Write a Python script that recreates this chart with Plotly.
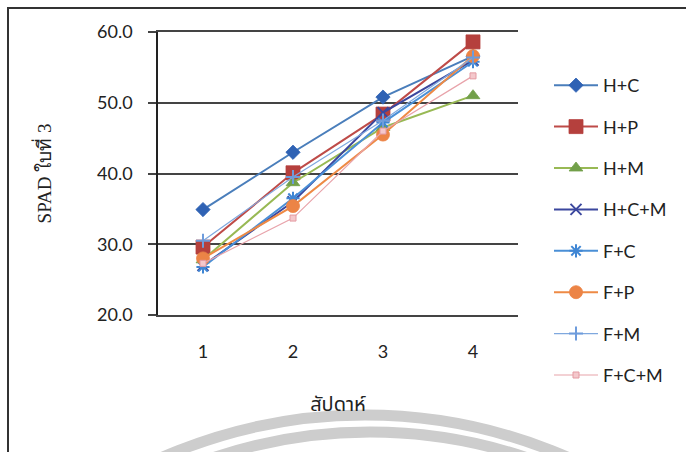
import plotly.graph_objects as go

weeks = ["1", "2", "3", "4"]
series_names = ["H+C", "H+P", "H+M", "H+C+M", "F+C", "F+P", "F+M", "F+C+M"]
v_hc = [34.9, 43.0, 50.8, 56.6]
v_hp = [29.6, 40.1, 48.4, 58.6]
v_hm = [27.8, 38.7, 46.5, 51.0]
v_hcm = [27.0, 36.0, 48.6, 56.0]
v_fc = [26.8, 36.5, 47.2, 55.8]
v_fp = [28.0, 35.4, 45.5, 56.6]
v_fm = [30.5, 39.5, 47.5, 56.4]
v_fcm = [27.3, 33.7, 46.0, 53.8]
values = [v_hc, v_hp, v_hm, v_hcm, v_fc, v_fp, v_fm, v_fcm]

line_colors = ["#4A7EBB", "#BE4B48", "#98B954", "#3B479E", "#4A8FD6", "#EE8A45", "#7FA8DE", "#E8A3AA"]
marker_colors = ["#2F62B4", "#B5403D", "#72A04A", "#3B479E", "#3F86D4", "#EC8446", "#6E9CDC", "#E39AA2"]
symbols = ["diamond", "square", "triangle-up", "x-thin", "asterisk", "circle", "cross-thin", "square"]
msizes = [11, 14, 12, 11, 11, 13, 10, 6]
lwidths = [2, 2, 2, 2, 2, 2, 1.2, 1.2]

fig = go.Figure()
for i, (name, vals) in enumerate(zip(series_names, values)):
    sym = symbols[i]
    open_like = sym in ("x-thin", "asterisk", "cross-thin")
    marker = dict(symbol=sym, size=msizes[i], color=marker_colors[i],
                  line=dict(width=2 if open_like else 0.8,
                            color=marker_colors[i]))
    if name == "F+C+M":
        marker = dict(symbol="square", size=6, color="#F4C8CC",
                      line=dict(width=1, color=marker_colors[i]))
    fig.add_trace(go.Scatter(
        x=weeks, y=vals, name=name, mode="lines+markers",
        line=dict(color=line_colors[i], width=lwidths[i]),
        marker=marker, legendgroup=name,
    ))

L, R, T, B = 158, 168, 32, 137
W, H = 686, 452
pw, ph = W - L - R, H - T - B

def px_x(px):
    return (px - L) / pw

def px_y(py):
    return (H - B - py) / ph

shapes = [
    # watermark arcs
    dict(type="circle", xref="paper", yref="paper", layer="below",
         x0=px_x(365 - 507), x1=px_x(365 + 507), y0=px_y(922 + 507), y1=px_y(922 - 507),
         line=dict(color="#CDCDCD", width=11)),
    dict(type="circle", xref="paper", yref="paper", layer="below",
         x0=px_x(370 - 490), x1=px_x(370 + 490), y0=px_y(922 + 490), y1=px_y(922 - 490),
         line=dict(color="#CDCDCD", width=11)),
    # outer chart frame
    dict(type="rect", xref="paper", yref="paper", layer="below",
         x0=px_x(8), x1=px_x(700), y0=px_y(470), y1=px_y(8),
         line=dict(color="#333333", width=2), fillcolor="rgba(0,0,0,0)"),
]

tick_font = dict(family="Lato, 'Open Sans', sans-serif", size=18, color="#222222")

fig.update_layout(
    width=W, height=H,
    margin=dict(l=L, r=R, t=T, b=B, autoexpand=False),
    paper_bgcolor="white", plot_bgcolor="white",
    font=tick_font,
    showlegend=True,
    legend=dict(x=px_x(549), xanchor="left", y=px_y(67), yanchor="top",
                tracegroupgap=15, itemwidth=44, maxheight=1000,
                font=tick_font, bgcolor="rgba(0,0,0,0)"),
    shapes=shapes,
    xaxis=dict(type="category", range=[-0.5, 3.5], showgrid=False, zeroline=False,
               showline=True, mirror=True, linecolor="#444444", linewidth=1.5,
               ticks="", ticklabelstandoff=20, tickfont=tick_font,
               title=dict(text="สัปดาห์", standoff=36,
                          font=dict(family="'Noto Sans Thai', 'Noto Sans', sans-serif", size=20, color="#222222"))),
    yaxis=dict(range=[20, 60], dtick=10, tickformat=".1f", showgrid=True,
               gridcolor="#444444", gridwidth=1.5, zeroline=False,
               showline=True, linecolor="#222222", linewidth=1.5,
               ticks="outside", ticklen=8, tickcolor="#444444", tickwidth=1.5,
               ticklabelstandoff=12, tickfont=tick_font,
               title=dict(text="SPAD ใบที่ 3", standoff=40,
                          font=dict(family="'Liberation Serif', 'DejaVu Serif', serif", size=19, color="#222222"))),
)

fig.write_html("out.html", config={"displayModeBar": False},
               post_script="document.body.style.margin='0';")
